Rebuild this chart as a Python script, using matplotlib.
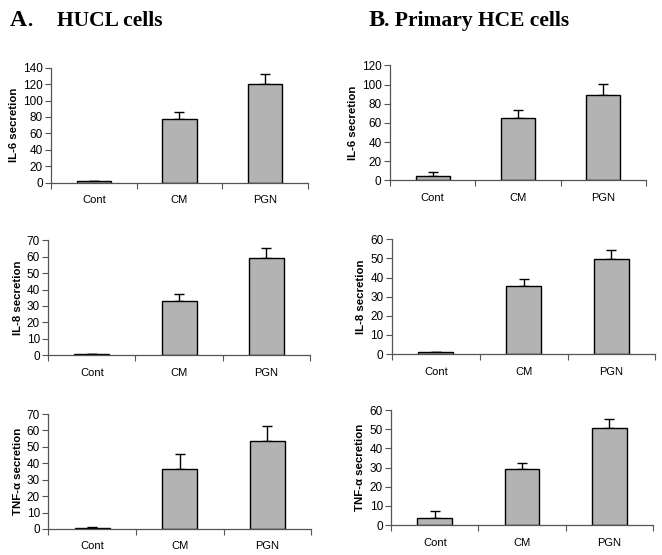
import numpy as np
import matplotlib
matplotlib.use("Agg")
import matplotlib.pyplot as plt

categories = ["Cont", "CM", "PGN"]

# panel A: HUCL cells
hucl_il6 = [2, 78, 120]
hucl_il6_err = [0.5, 7.5, 12]
hucl_il8 = [0.5, 33, 59]
hucl_il8_err = [0.3, 4.2, 6.2]
hucl_tnf = [0.5, 36.6, 53.7]
hucl_tnf_err = [0.5, 9, 9.2]

# panel B: primary HCE cells
hce_il6 = [4.8, 64.7, 89.3]
hce_il6_err = [3.5, 8.7, 10.9]
hce_il8 = [1.2, 35.3, 49.6]
hce_il8_err = [0, 3.7, 4.7]
hce_tnf = [3.7, 29.5, 50.6]
hce_tnf_err = [3.6, 2.8, 5.0]

ylabels = ["IL-6 secretion", "IL-8 secretion", "TNF-\u03b1 secretion"]
ylims_a = [(0, 140, 20), (0, 70, 10), (0, 70, 10)]
ylims_b = [(0, 120, 20), (0, 60, 10), (0, 60, 10)]

plt.rcParams["font.family"] = "Liberation Sans"

fig = plt.figure(figsize=(6.62, 5.55), dpi=100)

# axes boxes in figure fractions [left, bottom, width, height]
boxes_a = [[0.077, 0.671, 0.388, 0.207],
           [0.073, 0.360, 0.395, 0.207],
           [0.073, 0.047, 0.397, 0.207]]
boxes_b = [[0.589, 0.675, 0.387, 0.207],
           [0.592, 0.362, 0.398, 0.207],
           [0.591, 0.054, 0.395, 0.207]]


def draw_panel(box, vals, errs, ylabel, ylim):
    ax = fig.add_axes(box)
    x = np.arange(len(categories)) + 0.5
    ax.bar(x, vals, width=0.4, color="#b3b3b3", edgecolor="black", linewidth=1.0, zorder=2)
    ax.errorbar(x, vals, yerr=[np.zeros(len(vals)), errs], fmt="none",
                ecolor="black", elinewidth=1.0, capsize=3.5, capthick=1.0, zorder=1)
    lo, hi, step = ylim
    ax.set_ylim(lo, hi)
    ax.set_yticks(np.arange(lo, hi + step, step))
    ax.set_xlim(0, 3)
    ax.set_xticks([0, 1, 2, 3])
    ax.set_xticklabels([])
    ax.set_xticks(x, minor=True)
    ax.set_xticklabels(categories, minor=True)
    ax.tick_params(axis="x", which="minor", length=0, pad=9, labelsize=8)
    ax.tick_params(axis="x", which="major", length=4, width=0.8, color="#555555")
    ax.tick_params(axis="y", length=4, width=0.8, labelsize=8.5, pad=2, color="#555555")
    for s in ["top", "right"]:
        ax.spines[s].set_visible(False)
    for s in ["left", "bottom"]:
        ax.spines[s].set_color("#555555")
        ax.spines[s].set_linewidth(0.9)
    ax.set_ylabel(ylabel, fontsize=8.2, fontweight="bold", labelpad=3)
    return ax


data_a = [(hucl_il6, hucl_il6_err), (hucl_il8, hucl_il8_err), (hucl_tnf, hucl_tnf_err)]
data_b = [(hce_il6, hce_il6_err), (hce_il8, hce_il8_err), (hce_tnf, hce_tnf_err)]

for i in range(3):
    draw_panel(boxes_a[i], data_a[i][0], data_a[i][1], ylabels[i], ylims_a[i])
    draw_panel(boxes_b[i], data_b[i][0], data_b[i][1], ylabels[i], ylims_b[i])

# panel headings
fig.text(10 / 662, 1 - 26 / 555, "A", fontsize=17, fontweight="bold",
         family="Liberation Serif", va="baseline")
fig.text(27.5 / 662, 1 - 26 / 555, ".", fontsize=15, fontweight="bold",
         family="Liberation Serif", va="baseline")
fig.text(57 / 662, 1 - 26 / 555, "HUCL cells", fontsize=15.5, fontweight="bold",
         family="Liberation Serif", va="baseline")
fig.text(369 / 662, 1 - 26 / 555, "B", fontsize=17.5, fontweight="bold",
         family="Liberation Serif", va="baseline")
fig.text(384 / 662, 1 - 26 / 555, ". Primary HCE cells", fontsize=15.5, fontweight="bold",
         family="Liberation Serif", va="baseline")

fig.savefig("out.png", dpi=100)
